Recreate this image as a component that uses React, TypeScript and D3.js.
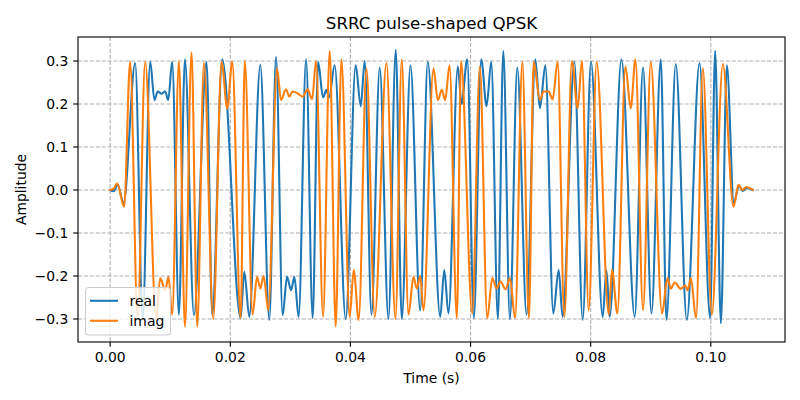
import React from "react";
import * as d3 from "d3";

// ---- Data ----
const realT = [
  0.0, 0.00058, 0.00125, 0.00225, 0.00417, 0.00542, 0.00667, 0.00738, 0.00792, 0.0085, 0.00917, 0.00967,
  0.01033, 0.01145, 0.01245, 0.01395, 0.01605, 0.017, 0.01867, 0.02172, 0.02233, 0.02317, 0.025, 0.0265,
  0.02762, 0.02872, 0.02945, 0.03012, 0.03067, 0.03138, 0.03262, 0.03372, 0.03462, 0.03545, 0.036, 0.03645,
  0.03738, 0.03922, 0.04088, 0.04172, 0.04238, 0.0435, 0.04488, 0.04633, 0.04755, 0.04855, 0.05, 0.05162,
  0.05288, 0.05495, 0.05562, 0.05633, 0.05788, 0.0585, 0.05945, 0.06055, 0.06178, 0.06267, 0.06345, 0.06455,
  0.06545, 0.06655, 0.06778, 0.06933, 0.07078, 0.07155, 0.07245, 0.07378, 0.07467, 0.07533, 0.07728, 0.07867,
  0.08005, 0.082, 0.08262, 0.08317, 0.08512, 0.08733, 0.08872, 0.09012, 0.09167, 0.09262, 0.09417, 0.096,
  0.09812, 0.09988, 0.10072, 0.10167, 0.10267, 0.10383, 0.10467, 0.10533, 0.106, 0.107,
];
const realV = [
  0.0, -0.003, 0.012, -0.03, 0.295, -0.3, 0.298, 0.209, 0.229, 0.224, 0.229, 0.209,
  0.298, -0.29, 0.304, -0.291, 0.298, -0.291, 0.304, -0.298, -0.19, -0.295, 0.291, -0.302,
  0.31, -0.291, -0.202, -0.233, -0.202, -0.295, 0.304, -0.298, 0.298, 0.215, 0.233, 0.215,
  0.29, -0.3, 0.29, 0.195, 0.3, -0.29, 0.285, -0.3, 0.326, -0.3, 0.29, -0.28,
  0.298, -0.295, -0.186, -0.287, 0.287, 0.2, 0.304, -0.298, 0.304, 0.195, 0.298, -0.3,
  0.324, -0.3, 0.285, -0.29, 0.304, 0.19, 0.29, -0.287, -0.186, -0.295, 0.298, -0.302,
  0.298, -0.295, -0.186, -0.295, 0.304, -0.295, 0.285, -0.287, 0.304, -0.302, 0.293, -0.302,
  0.295, -0.298, 0.324, -0.31, 0.29, -0.03, 0.01, -0.002, 0.005, 0.0,
];

const imagT = [
  0.0, 0.00058, 0.00117, 0.00233, 0.00333, 0.00458, 0.00583, 0.00767, 0.00833, 0.00917, 0.00972, 0.01033,
  0.01145, 0.01245, 0.01355, 0.0145, 0.01562, 0.01717, 0.01855, 0.0195, 0.02033, 0.02172, 0.02242, 0.02372,
  0.02445, 0.025, 0.02555, 0.02633, 0.02778, 0.02845, 0.02928, 0.02983, 0.03038, 0.03117, 0.03205, 0.03288,
  0.03362, 0.03428, 0.03545, 0.03655, 0.03755, 0.0385, 0.03988, 0.04055, 0.04138, 0.04267, 0.04405, 0.046,
  0.0475, 0.04855, 0.04967, 0.0505, 0.05105, 0.05162, 0.05217, 0.05383, 0.05455, 0.05522, 0.05578, 0.0565,
  0.05772, 0.05842, 0.06028, 0.06155, 0.06278, 0.06362, 0.06433, 0.065, 0.06583, 0.06655, 0.06742, 0.06862,
  0.06972, 0.0705, 0.07155, 0.07217, 0.073, 0.07367, 0.0745, 0.07562, 0.07688, 0.07783, 0.07855, 0.07967,
  0.081, 0.083, 0.08355, 0.08445, 0.08578, 0.08667, 0.08745, 0.08872, 0.09, 0.09188, 0.09278, 0.09333,
  0.094, 0.095, 0.09575, 0.09617, 0.09667, 0.09755, 0.09867, 0.10017, 0.102, 0.10378, 0.10462, 0.10525,
  0.10592, 0.107,
];
const imagV = [
  0.0, 0.003, 0.015, -0.039, 0.298, -0.3, 0.298, -0.3, -0.205, -0.233, -0.202, -0.29,
  0.3, -0.318, 0.32, -0.318, 0.296, -0.3, 0.298, 0.19, 0.298, -0.298, 0.3, -0.29,
  -0.202, -0.229, -0.2, -0.28, 0.283, 0.209, 0.234, 0.217, 0.229, 0.225, 0.217, 0.234,
  0.211, 0.3, -0.295, 0.324, -0.318, 0.304, -0.295, -0.186, -0.302, 0.283, -0.295, 0.295,
  -0.3, 0.304, -0.29, -0.202, -0.229, -0.2, -0.28, 0.283, 0.209, 0.233, 0.209, 0.29,
  -0.298, 0.3, -0.287, 0.287, -0.298, -0.205, -0.229, -0.213, -0.231, -0.205, -0.298, 0.298,
  -0.298, 0.298, 0.209, 0.229, 0.229, 0.211, 0.298, -0.295, 0.3, 0.19, 0.3, -0.28,
  0.298, -0.29, -0.186, -0.287, 0.287, 0.19, 0.304, -0.28, 0.298, -0.287, -0.205, -0.229,
  -0.215, -0.23, -0.222, -0.233, -0.205, -0.298, 0.283, -0.29, 0.293, -0.039, 0.012, 0.0,
  0.007, 0.0,
];

const xTicks = [0.0, 0.02, 0.04, 0.06, 0.08, 0.1];
const yTicks = [-0.3, -0.2, -0.1, 0.0, 0.1, 0.2, 0.3];
const seriesNames = ["real", "imag"];
const seriesColors = ["#1f77b4", "#ff7f0e"];
const titleText = "SRRC pulse-shaped QPSK";
const xLabel = "Time (s)";
const yLabel = "Amplitude";

const W = 800;
const H = 400;
const M = { left: 78, right: 785, top: 37, bottom: 342 };
const FONT = "DejaVu Sans, sans-serif";
const PT = 100 / 72;

export default function App() {
  const tMax = 0.107;
  const x = d3.scaleLinear().domain([-0.05 * tMax, tMax * 1.05]).range([M.left, M.right]);
  const y = d3.scaleLinear().domain([-0.3535, 0.3558]).range([M.bottom, M.top]);

  const line = d3
    .line<[number, number]>()
    .x((d) => x(d[0]))
    .y((d) => y(d[1]))
    .curve(d3.curveMonotoneX);

  const realPts = realT.map((t, i) => [t, realV[i]] as [number, number]);
  const imagPts = imagT.map((t, i) => [t, imagV[i]] as [number, number]);

  const fmtY = (v: number) => {
    const s = Math.abs(v).toFixed(1);
    return v < -1e-9 ? "\u2212" + s : s;
  };

  const lx = 85.5;
  const ly = 287.5;
  const tickLen = 3.5 * PT;
  const axW = 0.8 * PT;

  return (
    <svg
      width={W}
      height={H}
      style={{ position: "absolute", left: 0, top: 0, background: "#fff" }}
      fontFamily={FONT}
    >
      <rect x={0} y={0} width={W} height={H} fill="#fff" />
      <defs>
        <clipPath id="plotclip">
          <rect x={M.left} y={M.top} width={M.right - M.left} height={M.bottom - M.top} />
        </clipPath>
      </defs>
      {/* grid */}
      <g stroke="#b0b0b0" strokeWidth={axW} strokeDasharray={`${2.96 * PT},${1.28 * PT}`}>
        {xTicks.map((t) => (
          <line key={"gx" + t} x1={x(t)} x2={x(t)} y1={M.top} y2={M.bottom} />
        ))}
        {yTicks.map((v) => (
          <line key={"gy" + v} x1={M.left} x2={M.right} y1={y(v)} y2={y(v)} />
        ))}
      </g>
      {/* series */}
      <g clipPath="url(#plotclip)" fill="none" strokeWidth={1.5 * PT} strokeLinejoin="round" strokeLinecap="square">
        <path d={line(realPts) || ""} stroke={seriesColors[0]} />
        <path d={line(imagPts) || ""} stroke={seriesColors[1]} />
      </g>
      {/* axes frame */}
      <rect
        x={M.left}
        y={M.top}
        width={M.right - M.left}
        height={M.bottom - M.top}
        fill="none"
        stroke="#000"
        strokeWidth={axW}
      />
      {/* x ticks */}
      <g>
        {xTicks.map((t) => (
          <g key={"xt" + t}>
            <line x1={x(t)} x2={x(t)} y1={M.bottom} y2={M.bottom + tickLen} stroke="#000" strokeWidth={axW} />
            <text x={x(t)} y={M.bottom + 19.8} textAnchor="middle" fontSize={13.9} fill="#000">
              {t.toFixed(2)}
            </text>
          </g>
        ))}
      </g>
      {/* y ticks */}
      <g>
        {yTicks.map((v) => (
          <g key={"yt" + v}>
            <line x1={M.left - tickLen} x2={M.left} y1={y(v)} y2={y(v)} stroke="#000" strokeWidth={axW} />
            <text x={M.left - 2 * tickLen} y={y(v) + 5} textAnchor="end" fontSize={13.9} fill="#000">
              {fmtY(v)}
            </text>
          </g>
        ))}
      </g>
      {/* labels */}
      <text x={(M.left + M.right) / 2} y={383} textAnchor="middle" fontSize={13.9} fill="#000">
        {xLabel}
      </text>
      <text
        transform={`translate(26,${(M.top + M.bottom) / 2}) rotate(-90)`}
        textAnchor="middle"
        fontSize={13.9}
        fill="#000"
      >
        {yLabel}
      </text>
      <text x={(M.left + M.right) / 2} y={28.5} textAnchor="middle" fontSize={16.67} fill="#000">
        {titleText}
      </text>
      {/* legend */}
      <g>
        <rect
          x={lx}
          y={ly}
          width={85}
          height={47.5}
          rx={3}
          ry={3}
          fill="#fff"
          fillOpacity={0.8}
          stroke="#cccccc"
          strokeWidth={1}
        />
        {seriesNames.map((name, i) => (
          <g key={name}>
            <line
              x1={lx + 4.5}
              x2={lx + 32.5}
              y1={ly + 13.3 + i * 20}
              y2={ly + 13.3 + i * 20}
              stroke={seriesColors[i]}
              strokeWidth={1.5 * PT}
            />
            <text x={lx + 44} y={ly + 18.3 + i * 20} fontSize={13.9} fill="#000">
              {name}
            </text>
          </g>
        ))}
      </g>
    </svg>
  );
}
